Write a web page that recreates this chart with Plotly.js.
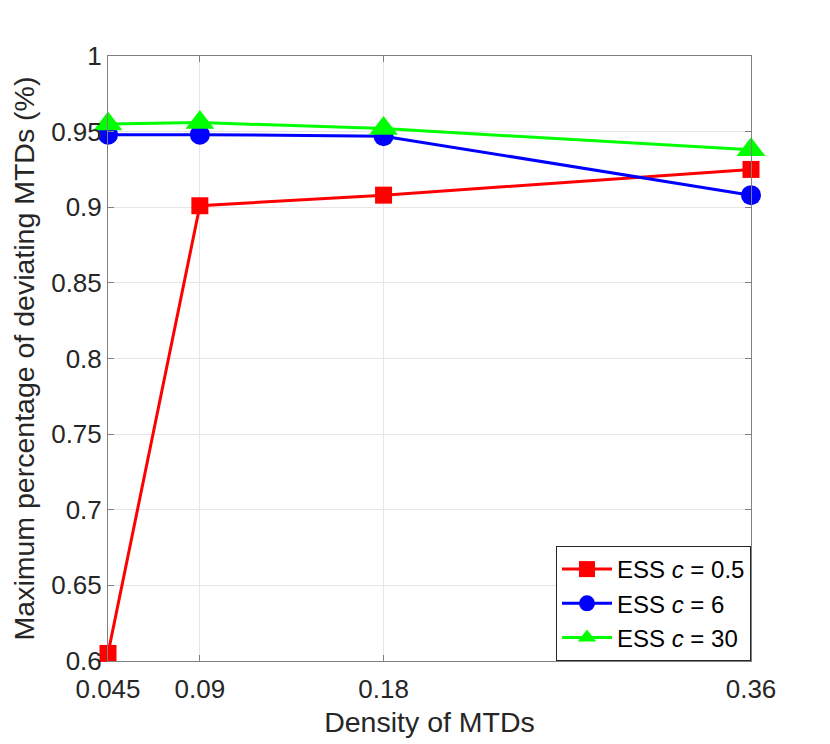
<!DOCTYPE html>
<html>
<head>
<meta charset="utf-8">
<script src="https://cdn.plot.ly/plotly-3.0.1.min.js"></script>
<style>html,body{margin:0;padding:0;background:#fff}</style>
</head>
<body>
<div id="chart" style="width:830px;height:744px"></div>
<script>
const density = [0.045, 0.09, 0.18, 0.36];
const xTickLabels = ['0.045', '0.09', '0.18', '0.36'];
const essC05 = [0.605, 0.901, 0.908, 0.925];
const essC6 = [0.948, 0.948, 0.947, 0.908];
const essC30 = [0.955, 0.956, 0.952, 0.938];
const yTickVals = [0.6, 0.65, 0.7, 0.75, 0.8, 0.85, 0.9, 0.95, 1];
const yTickLabels = ['0.6', '0.65', '0.7', '0.75', '0.8', '0.85', '0.9', '0.95', '1'];
const seriesNames = ['ESS <i>c</i> = 0.5', 'ESS <i>c</i> = 6', 'ESS <i>c</i> = 30'];

const font = 'Liberation Sans, Arial, Helvetica, sans-serif';

const traces = [
  {x: density, y: essC05, name: seriesNames[0], mode: 'lines+markers', cliponaxis: false,
   line: {color: '#ff0000', width: 3}, marker: {symbol: 'square', size: 17, color: '#ff0000'}},
  {x: density, y: essC6, name: seriesNames[1], mode: 'lines+markers', cliponaxis: false,
   line: {color: '#0000ff', width: 3}, marker: {symbol: 'circle', size: 20, color: '#0000ff'}},
  {x: density, y: essC30, name: seriesNames[2], mode: 'lines+markers', cliponaxis: false,
   line: {color: '#00ff00', width: 3}, marker: {symbol: 'triangle-up', size: 25, color: '#00ff00'}}
];

const layout = {
  width: 830, height: 744,
  margin: {l: 108, r: 79, t: 56, b: 83},
  paper_bgcolor: '#ffffff', plot_bgcolor: '#ffffff',
  font: {family: font, color: '#262626', size: 26},
  showlegend: true,
  legend: {x: 1, y: 0, xanchor: 'right', yanchor: 'bottom',
    bgcolor: '#ffffff', bordercolor: '#262626', borderwidth: 1,
    itemwidth: 50,
    font: {family: font, size: 24, color: '#000000'}, tracegroupgap: 0},
  xaxis: {
    range: [0.045, 0.36], tickvals: density, ticktext: xTickLabels,
    ticks: 'inside', ticklen: 6, tickcolor: '#808080', tickwidth: 1,
    showline: true, linecolor: '#808080', linewidth: 1, mirror: 'ticks',
    showgrid: true, gridcolor: '#e6e6e6', gridwidth: 1, zeroline: false,
    tickfont: {size: 26, color: '#262626'}, ticklabelstandoff: 5,
    title: {text: 'Density of MTDs', font: {size: 28.5, color: '#262626'}, standoff: 8}
  },
  yaxis: {
    range: [0.6, 1], tickvals: yTickVals, ticktext: yTickLabels,
    ticks: 'inside', ticklen: 6, tickcolor: '#808080', tickwidth: 1,
    showline: true, linecolor: '#808080', linewidth: 1, mirror: 'ticks',
    showgrid: true, gridcolor: '#e6e6e6', gridwidth: 1, zeroline: false,
    tickfont: {size: 26, color: '#262626'},
    title: {text: 'Maximum percentage of deviating MTDs (%)', font: {size: 28.5, color: '#262626'}, standoff: 8}
  }
};

Plotly.newPlot('chart', traces, layout, {displayModeBar: false, staticPlot: true});
</script>
</body>
</html>
